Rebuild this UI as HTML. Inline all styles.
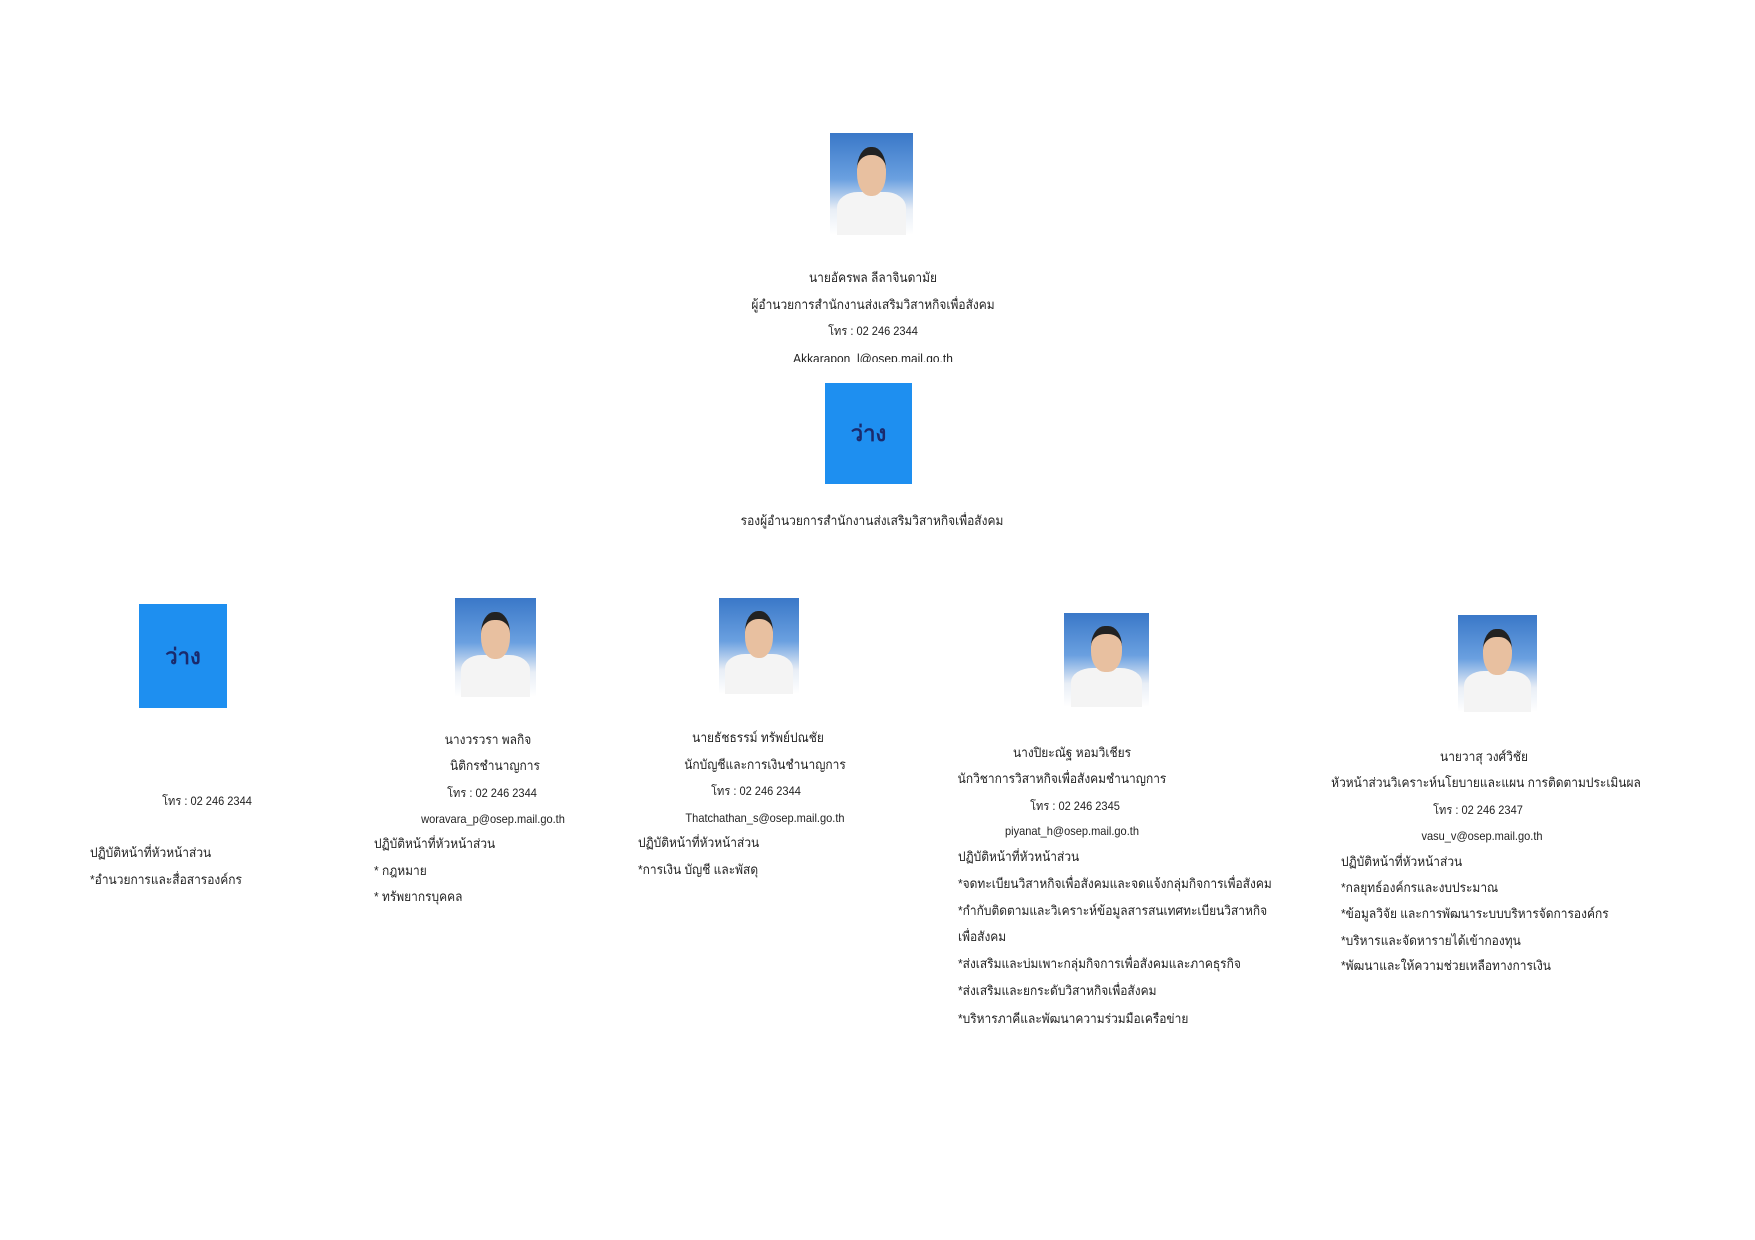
<!DOCTYPE html>
<html><head><meta charset="utf-8"><style>
body{margin:0;width:1755px;height:1240px;background:#fff;position:relative;overflow:hidden;font-family:"Liberation Sans","DejaVu Sans",sans-serif;font-size:13px;color:#222}
.t{position:absolute;white-space:nowrap;line-height:18px;height:18px;transform:scaleX(0.92);transform-origin:left center}
.c{width:500px;text-align:center;transform-origin:center center}
.box{position:absolute;background:#1e8ff0;display:flex;align-items:center;justify-content:center;color:#1a2a6c;font-size:22px;font-weight:bold}
.ph{position:absolute;background:linear-gradient(#3a78c8 0%,#6aa0e0 45%,#e8eef6 75%,#fff 100%);overflow:hidden}
.ph .hd{position:absolute;left:32%;top:14%;width:36%;height:40%;background:#e8c0a0;border-radius:45%;border-top:8px solid #222}
.ph .bd{position:absolute;left:8%;top:58%;width:84%;height:50%;background:#f4f4f4;border-radius:30% 30% 0 0}
</style></head><body>

<div class="ph" style="left:830px;top:133px;width:83px;height:102px"><div class="bd"></div><div class="hd"></div></div>
<div class="t c" style="left:623px;top:269px">นายอัครพล ลีลาจินดามัย</div>
<div class="t c" style="left:623px;top:296px">ผู้อำนวยการสำนักงานส่งเสริมวิสาหกิจเพื่อสังคม</div>
<div class="t c" style="left:623px;top:322px;font-size:12px">โทร : 02 246 2344</div>
<div class="t c" style="left:623px;top:350px;height:12px;overflow:hidden">Akkarapon_l@osep.mail.go.th</div>
<div class="box" style="left:825px;top:383px;width:87px;height:101px">ว่าง</div>
<div class="t c" style="left:622px;top:512px">รองผู้อำนวยการสำนักงานส่งเสริมวิสาหกิจเพื่อสังคม</div>

<div class="box" style="left:139px;top:604px;width:88px;height:104px">ว่าง</div>
<div class="t c" style="left:-43px;top:792px;font-size:12px">โทร : 02 246 2344</div>
<div class="t" style="left:90px;top:844px">ปฏิบัติหน้าที่หัวหน้าส่วน</div>
<div class="t" style="left:90px;top:871px">*อำนวยการและสื่อสารองค์กร</div>

<div class="ph" style="left:455px;top:598px;width:81px;height:99px"><div class="bd"></div><div class="hd"></div></div>
<div class="t c" style="left:238px;top:731px">นางวรวรา พลกิจ</div>
<div class="t c" style="left:245px;top:757px">นิติกรชำนาญการ</div>
<div class="t c" style="left:242px;top:784px;font-size:12px">โทร : 02 246 2344</div>
<div class="t c" style="left:243px;top:810px;font-size:12px">woravara_p@osep.mail.go.th</div>
<div class="t" style="left:374px;top:835px">ปฏิบัติหน้าที่หัวหน้าส่วน</div>
<div class="t" style="left:374px;top:862px">* กฎหมาย</div>
<div class="t" style="left:374px;top:888px">* ทรัพยากรบุคคล</div>

<div class="ph" style="left:719px;top:598px;width:80px;height:96px"><div class="bd"></div><div class="hd"></div></div>
<div class="t c" style="left:508px;top:729px">นายธัชธรรม์ ทรัพย์ปณชัย</div>
<div class="t c" style="left:515px;top:756px">นักบัญชีและการเงินชำนาญการ</div>
<div class="t c" style="left:506px;top:782px;font-size:12px">โทร : 02 246 2344</div>
<div class="t c" style="left:515px;top:809px;font-size:12px">Thatchathan_s@osep.mail.go.th</div>
<div class="t" style="left:638px;top:834px">ปฏิบัติหน้าที่หัวหน้าส่วน</div>
<div class="t" style="left:638px;top:861px">*การเงิน บัญชี และพัสดุ</div>

<div class="ph" style="left:1064px;top:613px;width:85px;height:94px"><div class="bd"></div><div class="hd"></div></div>
<div class="t c" style="left:822px;top:744px">นางปิยะณัฐ หอมวิเชียร</div>
<div class="t c" style="left:812px;top:770px">นักวิชาการวิสาหกิจเพื่อสังคมชำนาญการ</div>
<div class="t c" style="left:825px;top:797px;font-size:12px">โทร : 02 246 2345</div>
<div class="t c" style="left:822px;top:822px;font-size:12px">piyanat_h@osep.mail.go.th</div>
<div class="t" style="left:958px;top:848px">ปฏิบัติหน้าที่หัวหน้าส่วน</div>
<div class="t" style="left:958px;top:875px">*จดทะเบียนวิสาหกิจเพื่อสังคมและจดแจ้งกลุ่มกิจการเพื่อสังคม</div>
<div class="t" style="left:958px;top:902px">*กำกับติดตามและวิเคราะห์ข้อมูลสารสนเทศทะเบียนวิสาหกิจ</div>
<div class="t" style="left:958px;top:928px">เพื่อสังคม</div>
<div class="t" style="left:958px;top:955px">*ส่งเสริมและบ่มเพาะกลุ่มกิจการเพื่อสังคมและภาคธุรกิจ</div>
<div class="t" style="left:958px;top:982px">*ส่งเสริมและยกระดับวิสาหกิจเพื่อสังคม</div>
<div class="t" style="left:958px;top:1010px">*บริหารภาคีและพัฒนาความร่วมมือเครือข่าย</div>

<div class="ph" style="left:1458px;top:615px;width:79px;height:97px"><div class="bd"></div><div class="hd"></div></div>
<div class="t c" style="left:1234px;top:748px">นายวาสุ วงศ์วิชัย</div>
<div class="t c" style="left:1236px;top:774px">หัวหน้าส่วนวิเคราะห์นโยบายและแผน การติดตามประเมินผล</div>
<div class="t c" style="left:1228px;top:801px;font-size:12px">โทร : 02 246 2347</div>
<div class="t c" style="left:1232px;top:827px;font-size:12px">vasu_v@osep.mail.go.th</div>
<div class="t" style="left:1341px;top:853px">ปฏิบัติหน้าที่หัวหน้าส่วน</div>
<div class="t" style="left:1341px;top:879px">*กลยุทธ์องค์กรและงบประมาณ</div>
<div class="t" style="left:1341px;top:905px">*ข้อมูลวิจัย และการพัฒนาระบบบริหารจัดการองค์กร</div>
<div class="t" style="left:1341px;top:932px">*บริหารและจัดหารายได้เข้ากองทุน</div>
<div class="t" style="left:1341px;top:957px">*พัฒนาและให้ความช่วยเหลือทางการเงิน</div>
</body></html>
